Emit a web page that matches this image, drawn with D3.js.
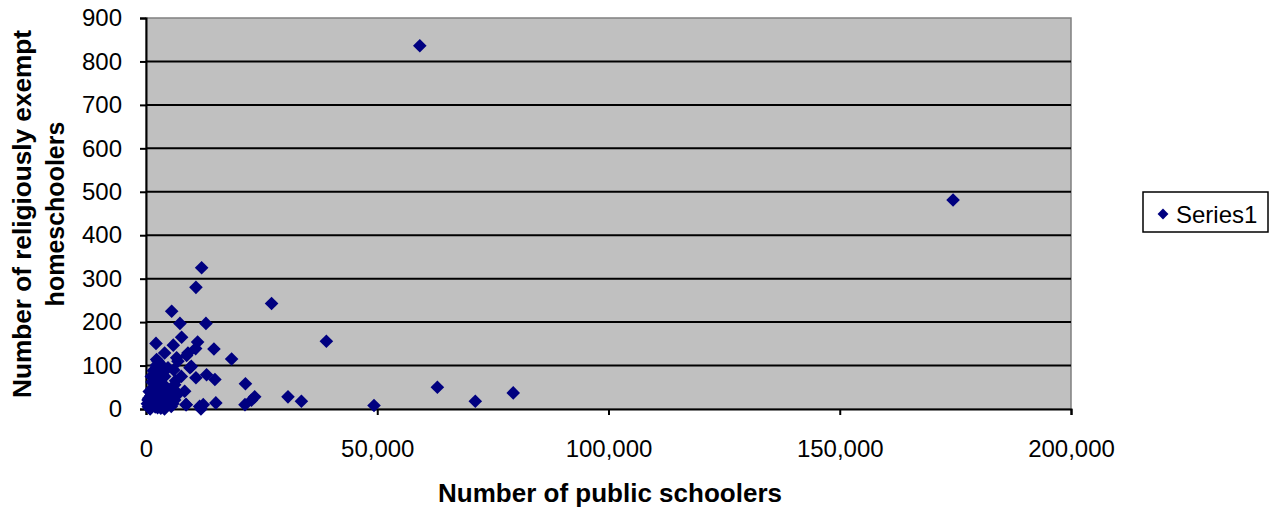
<!DOCTYPE html>
<html>
<head>
<meta charset="utf-8">
<script src="https://cdn.jsdelivr.net/npm/d3@7"></script>
<style>
  html, body { margin: 0; padding: 0; background: #fff; }
  svg { display: block; font-family: "Liberation Sans", Arial, sans-serif; }
</style>
</head>
<body>
<svg id="chart" width="1277" height="510"></svg>
<script>
// Public schoolers (x) vs religiously exempt homeschoolers (y), one point per district
const publicSchoolers = [
  59200, 174500, 27150, 12030, 10800, 5550, 7340, 12960, 2160, 7700,
  5900, 11160, 10730, 14690, 18510, 39000, 8790, 6630, 2300, 9500,
  13100, 14900, 10800, 21500, 23500, 22800, 21400, 30700, 33600, 15100,
  12380, 11880, 8640, 49300, 63000, 71200, 79400, 9070, 4030, 2600,
  6900, 1870, 4750, 9800, 1150, 4030, 7630, 2600, 6200, 1150,
  4750, 8360, 430, 3300, 6200, 300, 2600, 5460, 8700, 11600,
  500, 1000, 1500, 2000, 3000, 3500, 4000, 5000, 6000, 7000,
  800, 1200, 2500, 3000, 1700, 3800, 2200, 4400, 5200, 900,
  1400, 2800, 3600, 4200, 5600, 6400, 1900, 3200, 600, 2400,
  4800, 5800, 3400, 1300, 2000, 700, 3000, 1600
];
const exemptHomeschoolers = [
  836, 481, 243, 325, 280, 225, 197, 197, 151, 165,
  147, 154, 139, 138, 115, 156, 123, 118, 114, 95,
  79, 68, 72, 58, 28, 20, 10, 28, 18, 14,
  10, 0, 10, 8, 50, 18, 37, 129, 129, 110,
  110, 91, 95, 98, 75, 75, 75, 56, 56, 41,
  41, 41, 21, 25, 21, 12, 6, 6, 10, 6,
  5, 30, 15, 60, 45, 10, 0, 30, 90, 35,
  2, 8, 3, 85, 20, 15, 100, 50, 18, 0,
  48, 68, 32, 12, 45, 65, 80, 2, 25, 35,
  28, 12, 55, 62, 5, 40, 105, 88
];
const xTicks = [0, 50000, 100000, 150000, 200000];
const yTicks = [0, 100, 200, 300, 400, 500, 600, 700, 800, 900];
const seriesName = "Series1";

const svg = d3.select("#chart");
const plot = { left: 146, right: 1071, top: 18, bottom: 409 };

const x = d3.scaleLinear().domain([0, 200000]).range([plot.left, plot.right]);
const y = d3.scaleLinear().domain([0, 900]).range([plot.bottom, plot.top]);

// plot background
svg.append("rect")
  .attr("x", plot.left).attr("y", plot.top)
  .attr("width", plot.right - plot.left).attr("height", plot.bottom - plot.top)
  .attr("fill", "#c0c0c0")
  .attr("stroke", "#808080").attr("stroke-width", 1.5);

// horizontal gridlines
svg.append("g")
  .selectAll("line")
  .data(yTicks.filter(d => d > 0 && d < 900))
  .join("line")
  .attr("x1", plot.left).attr("x2", plot.right)
  .attr("y1", d => y(d)).attr("y2", d => y(d))
  .attr("stroke", "#000").attr("stroke-width", 2);

// y axis
const yAxis = svg.append("g")
  .attr("transform", `translate(${plot.left},0)`)
  .call(d3.axisLeft(y).tickValues(yTicks).tickSize(6).tickPadding(18).tickFormat(d3.format("d")));
yAxis.select(".domain").attr("stroke", "#000").attr("stroke-width", 2);
yAxis.selectAll(".tick line").attr("stroke", "#000").attr("stroke-width", 2);
yAxis.selectAll(".tick text")
  .attr("font-size", 24).attr("fill", "#000")
  .attr("font-family", "Liberation Sans, Arial, sans-serif");

// x axis
const xAxis = svg.append("g")
  .attr("transform", `translate(0,${plot.bottom})`)
  .call(d3.axisBottom(x).tickValues(xTicks).tickSize(6).tickPadding(25).tickFormat(d3.format(",")));
xAxis.select(".domain").attr("stroke", "#000").attr("stroke-width", 2);
xAxis.selectAll(".tick line").attr("stroke", "#000").attr("stroke-width", 2);
xAxis.selectAll(".tick text")
  .attr("font-size", 24).attr("fill", "#000")
  .attr("font-family", "Liberation Sans, Arial, sans-serif");

// points as diamonds
const diamond = d3.symbol().type(d3.symbolDiamond2).size(118);
svg.append("g")
  .selectAll("path")
  .data(publicSchoolers.map((v, i) => [v, exemptHomeschoolers[i]]))
  .join("path")
  .attr("d", diamond)
  .attr("transform", d => `translate(${x(d[0])},${y(d[1])})`)
  .attr("fill", "#000080");

// axis titles
svg.append("text")
  .attr("x", 610).attr("y", 502)
  .attr("text-anchor", "middle")
  .attr("font-size", 25).attr("font-weight", "bold")
  .attr("textLength", 344).attr("lengthAdjust", "spacingAndGlyphs")
  .text("Number of public schoolers");

const yTitle = svg.append("text")
  .attr("transform", `translate(0,214) rotate(-90)`)
  .attr("text-anchor", "middle")
  .attr("font-size", 25).attr("font-weight", "bold");
yTitle.append("tspan").attr("x", 0).attr("y", 31)
  .attr("textLength", 368).attr("lengthAdjust", "spacingAndGlyphs")
  .text("Number of religiously exempt");
yTitle.append("tspan").attr("x", 0).attr("y", 64).text("homeschoolers");

// legend
const legend = svg.append("g");
legend.append("rect")
  .attr("x", 1143).attr("y", 192).attr("width", 125).attr("height", 40)
  .attr("fill", "#fff").attr("stroke", "#000").attr("stroke-width", 1.5);
legend.append("path")
  .attr("d", d3.symbol().type(d3.symbolDiamond2).size(75))
  .attr("transform", "translate(1163,214)")
  .attr("fill", "#000080");
legend.append("text")
  .attr("x", 1176).attr("y", 223)
  .attr("font-size", 24)
  .text(seriesName);
</script>
</body>
</html>
